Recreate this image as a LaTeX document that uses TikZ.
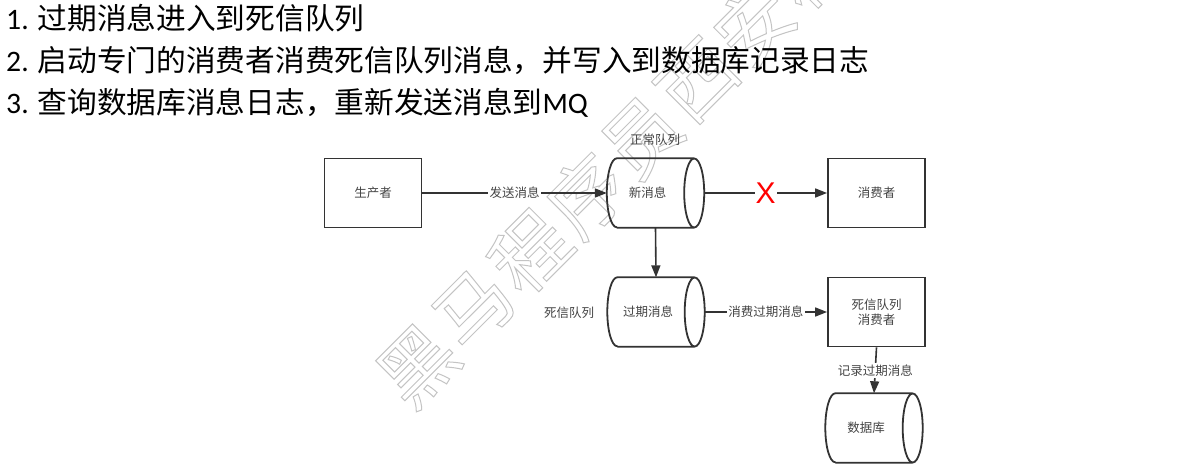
\documentclass[tikz,border=0pt]{standalone}
\usepackage{fontspec}
\setmainfont{Carlito}
\newfontfamily\cjk{Noto Sans CJK SC}
\newfontfamily\xfont{Liberation Sans}
\usetikzlibrary{arrows.meta,calc}

\definecolor{lineclr}{HTML}{333333}
\definecolor{lblclr}{HTML}{444444}
\definecolor{markclr}{HTML}{C4C4C4}

% hollow (stroked) glyphs for the diagonal mark
\newcommand\hollow[1]{\special{pdf:code 1 Tr 1 w}#1\special{pdf:code 0 Tr}}

\tikzset{
  heading/.style={anchor=base west, inner sep=0pt, text=black,
    font=\fontsize{29.7}{35}\selectfont},
  lbl/.style={text=lblclr, font=\cjk\fontsize{12.5}{15}\selectfont},
  box/.style={lbl, draw=lineclr, line width=1.8pt, minimum width=97pt,
    minimum height=69pt, inner sep=0pt, align=center},
  slot/.style={lbl, minimum width=97pt, minimum height=69pt, inner sep=0pt},
  cylline/.style={draw=lineclr, line width=1.8pt},
  flow/.style={draw=lineclr, line width=1.6pt,
    -{Triangle[length=12pt,width=9pt]}},
  edgelbl/.style={lbl, fill=white, inner sep=1.5pt},
  wm/.style={text=markclr, rotate=45, inner sep=0pt,
    font=\cjk\fontsize{76}{76}\selectfont},
}

% horizontal cylinder drawn around a named node
\newcommand\drawcyl[1]{%
  \draw[cylline]
    ($(#1.north west)+(10,0)$) -- ($(#1.north east)+(-10,0)$)
    ($(#1.south west)+(10,0)$) -- ($(#1.south east)+(-10,0)$)
    ($(#1.north west)+(10,0)$) arc[start angle=90, end angle=270,
      x radius=10pt, y radius=34.5pt]
    ($(#1.east)+(-10,0)$) ellipse[x radius=10pt, y radius=34.5pt];}

\begin{document}
\begin{tikzpicture}[x=1pt, y=-1pt]
\useasboundingbox[fill=white] (0,0) rectangle (1181,473);

% diagonal mark
\foreach \ch [count=\i from 0] in {黑,马,程,序,员,西,安,校,区}
  \node[wm] (wm\i) at ({418+56*\i},{366-57*\i}) {\hollow{\ch}};

% steps
\node[heading] (s1) at (6,30) {1. {\cjk 过期消息进入到死信队列}};
\node[heading] (s2) at (6,72) {2. {\cjk 启动专门的消费者消费死信队列消息，并写入到数据库记录日志}};
\node[heading] (s3) at (6,114) {3. {\cjk 查询数据库消息日志，重新发送消息到}MQ};

% nodes
\node[box]  (prod)  at (373,193) {生产者};
\node[slot] (newq)  at (655.5,193) {\hspace*{-16pt}新消息};
\node[box]  (cons)  at (876.5,193) {消费者};
\node[slot] (deadq) at (656,312) {\hspace*{-16pt}过期消息};
\node[box]  (dcons) at (876.5,312) {死信队列\\消费者};
\node[slot] (db)    at (874,428) {\hspace*{-16pt}数据库};

\drawcyl{newq}
\drawcyl{deadq}
\drawcyl{db}

\node[lbl] (normal) at (655,140) {正常队列};
\node[lbl] (dead)   at (569,313) {死信队列};

% connectors
\draw[flow] (prod.east) -- node[edgelbl] {发送消息} (newq.west);
\draw[flow] (newq.east) -- node[fill=white, inner sep=1pt, text=red,
  font=\xfont\fontsize{30}{30}\selectfont] (cut) {X} (cons.west);
\draw[flow] (newq.south) -- (deadq.north);
\draw[flow] (deadq.east) -- node[edgelbl] {消费过期消息} (dcons.west);
\draw[flow] (dcons.south) -- node[edgelbl] {记录过期消息} (db.north);
\end{tikzpicture}
\end{document}
